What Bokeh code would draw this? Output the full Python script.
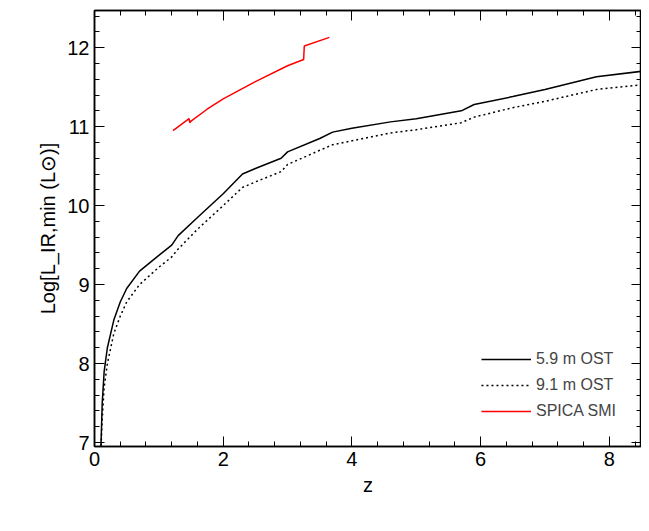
from bokeh.plotting import figure
from bokeh.models import LinearAxis, Range1d, Legend, LegendItem, CustomJSTickFormatter
from bokeh.embed import file_html
from bokeh.resources import INLINE

z_ost = [0.1,0.12,0.15,0.2,0.3,0.4,0.5,0.7,1.0,1.2,1.3,1.6,2.0,2.3,2.5,2.9,3.0,3.5,3.7,4.0,4.6,5.0,5.7,5.9,6.5,7.0,7.8,8.5]
l_59 = [6.95,7.5,7.9,8.2,8.55,8.78,8.95,9.17,9.37,9.5,9.62,9.85,10.15,10.4,10.47,10.6,10.68,10.85,10.93,10.98,11.06,11.1,11.2,11.28,11.38,11.47,11.63,11.7]
l_91 = [6.9,7.3,7.7,8.0,8.38,8.6,8.78,9.0,9.22,9.35,9.45,9.7,10.0,10.23,10.3,10.43,10.52,10.7,10.77,10.82,10.92,10.96,11.05,11.12,11.24,11.32,11.47,11.53]
z_spica = [1.22,1.47,1.48,1.5,1.75,2.0,2.5,3.0,3.25,3.26,3.65]
l_spica = [10.95,11.1,11.05,11.07,11.22,11.35,11.57,11.77,11.85,12.02,12.13]

p = figure(width=641, height=515, output_backend="svg", toolbar_location=None,
           x_range=Range1d(0, 8.5), y_range=Range1d(6.95, 12.47),
           background_fill_color="white", border_fill_color="white")
p.grid.visible = False
p.outline_line_color = "black"
p.outline_line_width = 1.5
p.min_border_left = 94
p.min_border_bottom = 69
p.min_border_top = 10
p.min_border_right = 0

for ax in p.axis:
    ax.major_label_text_font_size = "15pt"
    ax.major_label_text_font = "Liberation Sans"
    ax.major_label_text_color = "black"
    ax.major_tick_in = 10; ax.major_tick_out = 0
    ax.minor_tick_in = 5; ax.minor_tick_out = 0
    ax.axis_line_width = 1.5
    ax.axis_label_text_font_size = "15pt"
    ax.axis_label_text_font_style = "normal"
    ax.axis_label_text_font = "Liberation Sans"
    ax.axis_label_text_color = "black"
p.xaxis.axis_label = "z"
p.yaxis.axis_label = "Log[L_IR,min (L⊙)]"
p.xaxis.ticker.desired_num_ticks = 5
p.xaxis.ticker.num_minor_ticks = 5
p.yaxis.ticker.num_minor_ticks = 5

for loc in ("right", "above"):
    a = LinearAxis(formatter=CustomJSTickFormatter(code="return ''"), major_tick_in=10, major_tick_out=0,
                   minor_tick_in=5, minor_tick_out=0, axis_line_width=1.5, major_label_standoff=0)
    a.ticker.num_minor_ticks = 5
    p.add_layout(a, loc)

r1 = p.line(z_ost, l_59, line_color="black", line_width=1.5)
r2 = p.line(z_ost, l_91, line_color="black", line_width=1.5, line_dash="2 3")
r3 = p.line(z_spica, l_spica, line_color="red", line_width=1.5)

leg = Legend(items=[LegendItem(label="5.9 m OST", renderers=[r1]),
                    LegendItem(label="9.1 m OST", renderers=[r2]),
                    LegendItem(label="SPICA SMI", renderers=[r3])],
             location="bottom_right", border_line_color=None, background_fill_alpha=0,
             label_text_font_size="12pt", label_text_font="Liberation Sans",
             glyph_width=50, spacing=6, margin=25)
p.add_layout(leg)

open("out.html", "w").write(file_html(p, INLINE))
